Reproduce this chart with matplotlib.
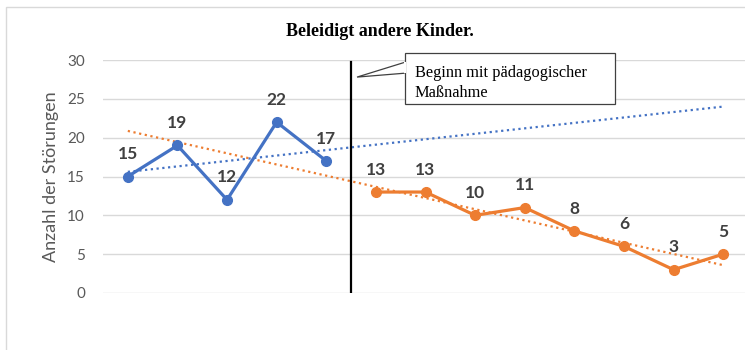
import matplotlib
matplotlib.use("Agg")
import matplotlib.pyplot as plt
import numpy as np
from matplotlib.patches import Rectangle, Polygon

# Sessions 1-5: baseline, sessions 6-13: after the intervention started
baseline_x = [1, 2, 3, 4, 5]
baseline_y = [15, 19, 12, 22, 17]
treatment_x = [6, 7, 8, 9, 10, 11, 12, 13]
treatment_y = [13, 13, 10, 11, 8, 6, 3, 5]
y_ticks = [0, 5, 10, 15, 20, 25, 30]

title = "Beleidigt andere Kinder."
y_label = "Anzahl der Störungen"
callout = "Beginn mit pädagogischer\nMaßnahme"

BLUE = "#4472C4"
ORANGE = "#ED7D31"
GRID = "#D9D9D9"
TICK = "#595959"
LABEL = "#404040"

fig = plt.figure(figsize=(7.45, 3.5), dpi=100)
ax = fig.add_axes([103 / 745, 1 - 293 / 350, 645 / 745, 233 / 350])

# outer chart frame
fig.patches.append(Rectangle((6 / 745, -0.2), 1.2, 1 - 7 / 350 + 0.2,
                             transform=fig.transFigure, fill=False,
                             edgecolor="#D9D9D9", linewidth=1.0))

ax.set_xlim(0.5, 13.5)
ax.set_ylim(0, 30)
ax.set_yticks(y_ticks)
ax.set_xticks([])
for s in ax.spines.values():
    s.set_visible(False)
ax.grid(axis="y", color=GRID, linewidth=1.0)
ax.set_axisbelow(True)
ax.tick_params(axis="y", length=0, pad=13, labelsize=11, labelcolor=TICK)
for lab in ax.get_yticklabels():
    lab.set_fontfamily("Lato")
ax.set_ylabel(y_label, fontsize=13, color=TICK, family="Lato", labelpad=6)

# linear trends of each phase, drawn across all sessions
xs_all = np.array([baseline_x[0], treatment_x[-1]], dtype=float)
for xs, ys, col in [(baseline_x, baseline_y, BLUE), (treatment_x, treatment_y, ORANGE)]:
    k, d = np.polyfit(xs, ys, 1)
    ax.plot(xs_all, k * xs_all + d, color=col, linewidth=1.6,
            linestyle=(0, (1, 1.6)), dash_capstyle="butt", zorder=2)

for xs, ys, col in [(baseline_x, baseline_y, BLUE), (treatment_x, treatment_y, ORANGE)]:
    ax.plot(xs, ys, color=col, linewidth=2.3, marker="o", markersize=7,
            zorder=3, solid_joinstyle="round")
    for x, y in zip(xs, ys):
        ax.annotate(str(y), (x, y), xytext=(0, 12.5), textcoords="offset points",
                    ha="center", va="baseline", fontsize=12.5, fontweight="bold",
                    color=LABEL, family="Lato", zorder=4)

# phase change marker
ax.plot([5.5, 5.5], [0, 29.7], color="black", linewidth=1.6, zorder=3)

# callout box with pointer
bx0, bx1 = 6.58, 10.82
by0, by1 = 24.3, 30.9
ax.add_patch(Rectangle((bx0, by0), bx1 - bx0, by1 - by0, facecolor="white",
                       edgecolor="#404040", linewidth=0.9, clip_on=False, zorder=5))
ax.add_patch(Polygon([[bx0, 29.7], [5.62, 27.8], [bx0, 28.3]], closed=False,
                     facecolor="white", edgecolor="#404040", linewidth=0.9,
                     clip_on=False, zorder=5))
ax.plot([bx0, bx0], [28.45, 29.55], color="white", linewidth=1.5, zorder=6,
        clip_on=False)
ax.text(bx0 + 0.2, 29.35, callout, family="Liberation Serif", fontsize=11.8,
        va="top", ha="left", color="black", linespacing=1.3, zorder=7)

fig.text(380 / 745, 1 - 31 / 350, title, family="Liberation Serif",
         fontweight="bold", fontsize=13, ha="center", va="center")

fig.savefig("out.png", dpi=100)
